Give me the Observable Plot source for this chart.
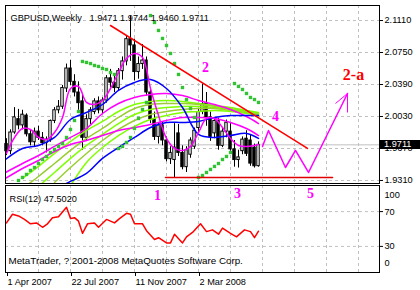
<!DOCTYPE html>
<html><head><meta charset="utf-8">
<script src="https://cdn.jsdelivr.net/npm/d3@7"></script>
<script src="https://cdn.jsdelivr.net/npm/@observablehq/plot@0.6"></script>
<style>
body{margin:0;background:#fff;}
#wrap{position:relative;width:420px;height:290px;overflow:hidden;font-family:"Liberation Sans",Arial,sans-serif;background:#fff;}
#wrap svg{position:absolute;left:0;top:0;}
#bid{position:absolute;background:#000;color:#fff;font:9.2px "Liberation Sans",Arial,sans-serif;line-height:9px;padding-left:4px;box-sizing:border-box;}
</style></head><body><div id="wrap"></div><script>
// ---- weekly candles, week index 0 = 1 Apr 2007 ----
const open  = [1.9720,1.9640,1.9850,2.0000,1.9930,2.0040,1.9830,1.9740,1.9860,1.9790,1.9730,1.9770,1.9980,2.0100,2.0140,2.0345,2.0570,2.0420,2.0300,2.0200,1.9790,2.0000,2.0080,2.0200,2.0100,2.0210,2.0460,2.0410,2.0350,2.0540,2.0650,2.0900,2.0830,2.0530,2.0620,2.0660,2.0300,2.0000,1.9800,1.9930,1.9760,1.9550,1.9540,1.9840,1.9620,1.9460,1.9600,1.9690,1.9900,2.0080,2.0180,2.0020,1.9840,1.9980,1.9700,1.9860,1.9860,1.9660,1.9540,1.9640,1.9780,1.9760,1.9680,1.9471];
const high  = [1.9780,1.9880,2.0130,2.0110,2.0100,2.0060,1.9880,1.9900,1.9920,1.9850,1.9800,1.9990,2.0130,2.0210,2.0380,2.0620,2.0660,2.0500,2.0420,2.0280,2.0050,2.0130,2.0230,2.0250,2.0240,2.0490,2.0560,2.0480,2.0570,2.0700,2.0940,2.1161,2.0900,2.0700,2.0840,2.0700,2.0330,2.0080,1.9950,1.9970,1.9800,1.9690,1.9950,1.9940,1.9700,1.9690,1.9790,1.9900,2.0120,2.0396,2.0300,2.0080,2.0000,2.0010,1.9900,1.9990,1.9950,1.9760,1.9650,1.9800,1.9870,1.9820,1.9720,1.9744];
const low   = [1.9590,1.9600,1.9830,1.9880,1.9880,1.9800,1.9700,1.9690,1.9760,1.9700,1.9620,1.9740,1.9950,2.0060,2.0110,2.0300,2.0380,2.0250,2.0100,1.9650,1.9760,1.9940,2.0050,2.0060,2.0060,2.0180,2.0350,2.0300,2.0320,2.0440,2.0600,2.0650,2.0430,2.0450,2.0560,2.0260,1.9950,1.9760,1.9720,1.9700,1.9520,1.9490,1.9340,1.9580,1.9430,1.9400,1.9560,1.9660,1.9850,2.0050,1.9920,1.9750,1.9780,1.9650,1.9680,1.9790,1.9640,1.9460,1.9450,1.9600,1.9580,1.9470,1.9450,1.9460];
const close = [1.9640,1.9850,2.0020,1.9930,2.0050,1.9830,1.9740,1.9860,1.9790,1.9730,1.9770,1.9980,2.0100,2.0140,2.0350,2.0570,2.0420,2.0300,2.0180,1.9790,2.0000,2.0100,2.0200,2.0100,2.0210,2.0460,2.0410,2.0350,2.0540,2.0650,2.0900,2.0830,2.0530,2.0620,2.0660,2.0300,2.0000,1.9800,1.9930,1.9760,1.9550,1.9620,1.9680,1.9620,1.9460,1.9650,1.9760,1.9870,2.0080,2.0170,2.0020,1.9800,1.9980,1.9700,1.9860,1.9960,1.9660,1.9540,1.9570,1.9770,1.9610,1.9500,1.9470,1.9711];

// ---- indicator lines (week, price) ----
const maWeeks = [-0.25,4,8,12,16,20,24,28,32,36,40,44,48,52,56,60,63];
const blueMid = [1.9546,1.9670,1.9704,1.9794,1.9996,2.0075,2.0165,2.0323,2.0413,2.0446,2.0345,2.0131,1.9828,1.9794,1.9816,1.9839,1.9783];
const magUpper = [1.9400,1.9501,1.9591,1.9693,1.9794,1.9895,2.0064,2.0176,2.0244,2.0278,2.0289,2.0266,2.0210,2.0165,2.0109,2.0030,1.9951];
const magLower = [1.9333,1.9445,1.9535,1.9636,1.9715,1.9760,1.9816,1.9873,1.9906,1.9940,1.9985,2.0019,2.0019,2.0008,1.9963,1.9895,1.9816];
const green1 = [null,1.9333,1.9468,1.9614,1.9749,1.9873,1.9974,2.0086,2.0165,2.0199,2.0210,2.0199,2.0176,2.0154,2.0131,2.0098,2.0075];
const green2 = [null,1.9220,1.9355,1.9501,1.9648,1.9783,1.9895,2.0019,2.0120,2.0165,2.0176,2.0176,2.0165,2.0143,2.0120,2.0086,2.0064];
const green3 = [null,null,1.9243,1.9400,1.9558,1.9704,1.9828,1.9951,2.0053,2.0109,2.0131,2.0143,2.0143,2.0131,2.0109,2.0086,2.0064];
const green4 = [null,null,null,1.9288,1.9456,1.9614,1.9760,1.9884,1.9985,2.0053,2.0086,2.0109,2.0120,2.0120,2.0098,2.0075,2.0053];
const green5 = [null,null,null,null,1.9250,1.9513,1.9681,1.9816,1.9918,1.9996,2.0041,2.0075,2.0086,2.0098,2.0086,2.0064,2.0041];
const blueSlowWeeks = [15,16,20,24,28,32,36,40,44,48,52,56,60,63];
const blueSlow = [1.9276,1.9299,1.9389,1.9558,1.9681,1.9794,1.9906,1.9963,1.9963,1.9974,2.0019,2.0041,2.0041,2.0041];
const magFastWeeks = [0,2,4,6,8,10,12,14,16,18,20,22,24,26,28,30,32,34,36,38,40,42,44,46,48,50,52,54,56,58,60,62,63];
const magFast = [1.9614,1.9794,1.9895,1.9884,1.9794,1.9771,1.9850,2.0019,2.0345,2.0368,2.0188,2.0165,2.0210,2.0345,2.0525,2.0683,2.0739,2.0694,2.0345,2.0041,1.9783,1.9670,1.9648,1.9693,1.9850,2.0008,2.0008,1.9906,1.9783,1.9704,1.9693,1.9704,1.9715];

// ---- parabolic SAR dots ----
const sarWeeks = [3,4,5,6,7,8,9,10,11,12,13,14,15,16,17,18, 19,20,21,22,23,24,25,26,27, 28,29,30,31,32,33,34,35, 36,37,38,39,40,41,42,43,44,45,46,47, 48,49,50,51,52,53,54,55,56, 57,58,59,60,61,62,63];
const sarValues = [1.9310,1.9344,1.9378,1.9423,1.9456,1.9501,1.9546,1.9580,1.9625,1.9659,1.9693,1.9726,1.9794,1.9884,1.9985,2.0086,
  2.0649,2.0638,2.0626,2.0604,2.0593,2.0570,2.0559,2.0525,2.0503,
  1.9670,1.9693,1.9738,1.9794,1.9895,2.0008,2.0109,2.0188,
  2.1166,2.1088,2.0998,2.0908,2.0829,2.0739,2.0626,2.0503,2.0356,2.0221,2.0120,2.0019,
  1.9344,1.9366,1.9400,1.9434,1.9468,1.9501,1.9546,1.9580,1.9625,
  2.0401,2.0368,2.0334,2.0289,2.0244,2.0221,2.0188];

// ---- drawn objects ----
const trendWeeks = [26, 75.25];
const trendPrices = [2.1054, 1.9670];
const supportWeeks = [39.75, 81.5];
const supportPrice = 1.9344;
const zigWeeks = [64, 65.5, 69.75, 72.25, 75.5, 85.25];
const zigPrices = [1.9693, 1.9873, 1.9456, 1.9648, 1.9400, 2.0289];
const arrowWeeks = [82.25, 85.25];
const arrowPrices = [2.0176, 2.0075];
const waveLabels = ["2", "4"];
const waveWeeks = [49.75, 67.25];
const wavePrices = [2.0581, 2.0030];
const projLabel = "2-a", projWeek = 86.75, projPrice = 2.0503;
const lowLabels = ["1", "3", "5"];
const lowWeeks = [37.75, 57.75, 76];
const lowRsi = [88, 91, 91];

// ---- RSI(12) ----
const rsiWeeks = [0,1.5,3,4.5,6,7.5,9,10.25,11.5,13,15,16,17,18,19,20.25,22,23,25,27,28.25,30,31,32,34,35,37,38,40,41,42,44,45,46.5,48.5,50,51.5,53,54,56,57.5,59.5,61,62,63];
const rsiValues = [57,67,65,61,56,57,52,56,63,64,75,62,63,59,45,56,57,52,61,57,62,68,67,56,56,48,38,40,34,34,44,34,41,46,56,47,49,44,51,45,41,49,47,40,47.5];

// ---- axes ----
const priceTicks = [2.1110, 2.0750, 2.0390, 2.0030, 1.9670, 1.9310];
const gridWeeks = [8,16,24,32,40,48,56,64,72,80,88];
const tickWeeks = [0, 16, 32, 48];
const tickLabels = ["1 Apr 2007", "22 Jul 2007", "11 Nov 2007", "2 Mar 2008"];
const rsiLevels = [70, 30];
const header = "GBPUSD,Weekly\u00a0\u00a0 1.9471 1.9744 1.9460 1.9711";
const bidPrice = 1.9711;

// ---- build tables ----
const candles = open.map((o, i) => ({w: i, o, h: high[i], l: low[i], c: close[i]}));
const series = (ws, vs) => ws.map((w, i) => ({w, p: vs[i]}));
const greens = [green1, green2, green3, green4, green5];
const greenColors = ["#7fff00", "#9acd32", "#7fff00", "#9acd32", "#7fff00"];
const sar = series(sarWeeks, sarValues);
const rsi = rsiWeeks.map((w, i) => ({w, r: rsiValues[i]}));

const X = {domain: [-0.25, 93.25], axis: null};
const dash = {stroke: "#c0c0c0", strokeOpacity: 1, strokeDasharray: "3,3"};
const serif = {fontFamily: "Liberation Serif, Times New Roman, serif", fontWeight: "bold"};

const main = Plot.plot({
  width: 420, height: 290,
  marginLeft: 5, marginRight: 41, marginTop: 5, marginBottom: 107,
  x: X,
  y: {domain: [1.9276, 2.1279], axis: null},
  style: {background: "transparent", fontFamily: "Liberation Sans, Arial, sans-serif", fontSize: "9.2px", overflow: "visible"},
  marks: [
    Plot.gridY(priceTicks, dash),
    Plot.gridX(gridWeeks, dash),
    Plot.ruleY([bidPrice], {stroke: "#c0c0c0"}),
    Plot.ruleX(candles, {x: "w", y1: "l", y2: "h", stroke: "black"}),
    Plot.rect(candles, {x1: d => d.w - 0.3, x2: d => d.w + 0.3, y1: "o", y2: "c",
      fill: d => d.c >= d.o ? "white" : "black", stroke: "black"}),
    ...greens.map((g, k) => Plot.line(series(maWeeks, g), {x: "w", y: "p", stroke: greenColors[k], curve: "catmull-rom", clip: true})),
    Plot.line(series(maWeeks, magUpper), {x: "w", y: "p", stroke: "#ff00ff", curve: "catmull-rom", clip: true}),
    Plot.line(series(maWeeks, magLower), {x: "w", y: "p", stroke: "#ff00ff", curve: "catmull-rom", clip: true}),
    Plot.line(series(blueSlowWeeks, blueSlow), {x: "w", y: "p", stroke: "#0000ff", curve: "catmull-rom", clip: true}),
    Plot.line(series(maWeeks, blueMid), {x: "w", y: "p", stroke: "#0000ff", curve: "catmull-rom", clip: true}),
    Plot.line(series(magFastWeeks, magFast), {x: "w", y: "p", stroke: "#ff00ff", curve: "catmull-rom", clip: true}),
    Plot.dot(sar, {x: "w", y: "p", symbol: "square", r: 1.9, fill: "#33c233", stroke: "none"}),
    Plot.line(series(trendWeeks, trendPrices), {x: "w", y: "p", stroke: "#ff0000"}),
    Plot.line(series(supportWeeks, [supportPrice, supportPrice]), {x: "w", y: "p", stroke: "#e00000", strokeWidth: 1.6}),
    Plot.line(series(zigWeeks, zigPrices), {x: "w", y: "p", stroke: "#ff00ff"}),
    Plot.link(arrowWeeks.map((w, i) => ({w, p: arrowPrices[i]})), {
      x1: "w", y1: "p", x2: () => zigWeeks[zigWeeks.length - 1], y2: () => zigPrices[zigPrices.length - 1], stroke: "#ff00ff"}),
    Plot.text(waveLabels, {x: (d, i) => waveWeeks[i], y: (d, i) => wavePrices[i], text: d => d, fill: "#ff00ff", fontSize: 14, ...serif}),
    Plot.text([projLabel], {x: projWeek, y: projPrice, text: d => d, fill: "#ff0000", fontSize: 16, ...serif}),
    Plot.frame({stroke: "black"}),
    Plot.axisY(priceTicks, {anchor: "right", label: null, tickSize: 3, tickPadding: 2, tickFormat: d => d.toFixed(4), fill: "black", stroke: "black", fontSize: 9.2}),
    Plot.text([header], {frameAnchor: "top-left", dx: 5, dy: 8.5, textAnchor: "start", fill: "black", fontSize: 9.2})
  ]
});

const rsiPlot = Plot.plot({
  width: 420, height: 290,
  marginLeft: 5, marginRight: 41, marginTop: 185, marginBottom: 18,
  x: X,
  y: {domain: [0, 100], axis: null},
  style: {background: "transparent", fontFamily: "Liberation Sans, Arial, sans-serif", fontSize: "9.2px", overflow: "visible"},
  marks: [
    Plot.gridY(rsiLevels, dash),
    Plot.gridX(gridWeeks, dash),
    Plot.line(rsi, {x: "w", y: "r", stroke: "#ff0000"}),
    Plot.text(lowLabels, {x: (d, i) => lowWeeks[i], y: (d, i) => lowRsi[i], text: d => d, fill: "#ff00ff", fontSize: 14, ...serif}),
    Plot.frame({stroke: "black"}),
    Plot.axisY(rsiLevels, {anchor: "right", label: null, tickSize: 3, tickPadding: 2, fill: "black", stroke: "black", fontSize: 9.2}),
    Plot.text(["100"], {frameAnchor: "top-right", dx: 5, dy: 6, textAnchor: "start", fill: "black", fontSize: 9.2}),
    Plot.text(["0"], {frameAnchor: "bottom-right", dx: 5, dy: -7, textAnchor: "start", fill: "black", fontSize: 9.2}),
    Plot.axisX(tickWeeks, {anchor: "bottom", label: null, tickSize: 4, tickPadding: 2, textAnchor: "start", dx: 1,
      tickFormat: d => tickLabels[tickWeeks.indexOf(d)], fill: "black", stroke: "black", fontSize: 9.2}),
    Plot.text(["RSI(12) 47.5020"], {frameAnchor: "top-left", dx: 4, dy: 10, textAnchor: "start", fill: "black", fontSize: 9.2}),
    Plot.text(["MetaTrader, ? 2001-2008 MetaQuotes Software Corp."], {frameAnchor: "bottom-left", dx: 3, dy: -8.5, textAnchor: "start", fill: "black", fontSize: 9.8})
  ]
});

const wrap = document.getElementById("wrap");
wrap.appendChild(main);
wrap.appendChild(rsiPlot);
const yb = main.scale("y").apply(bidPrice);
const bid = document.createElement("div");
bid.id = "bid";
bid.textContent = bidPrice.toFixed(4);
bid.style.left = "380px";
bid.style.width = "40px";
bid.style.top = (yb - 4.5) + "px";
bid.style.height = "9px";
wrap.appendChild(bid);
</script></body></html>
